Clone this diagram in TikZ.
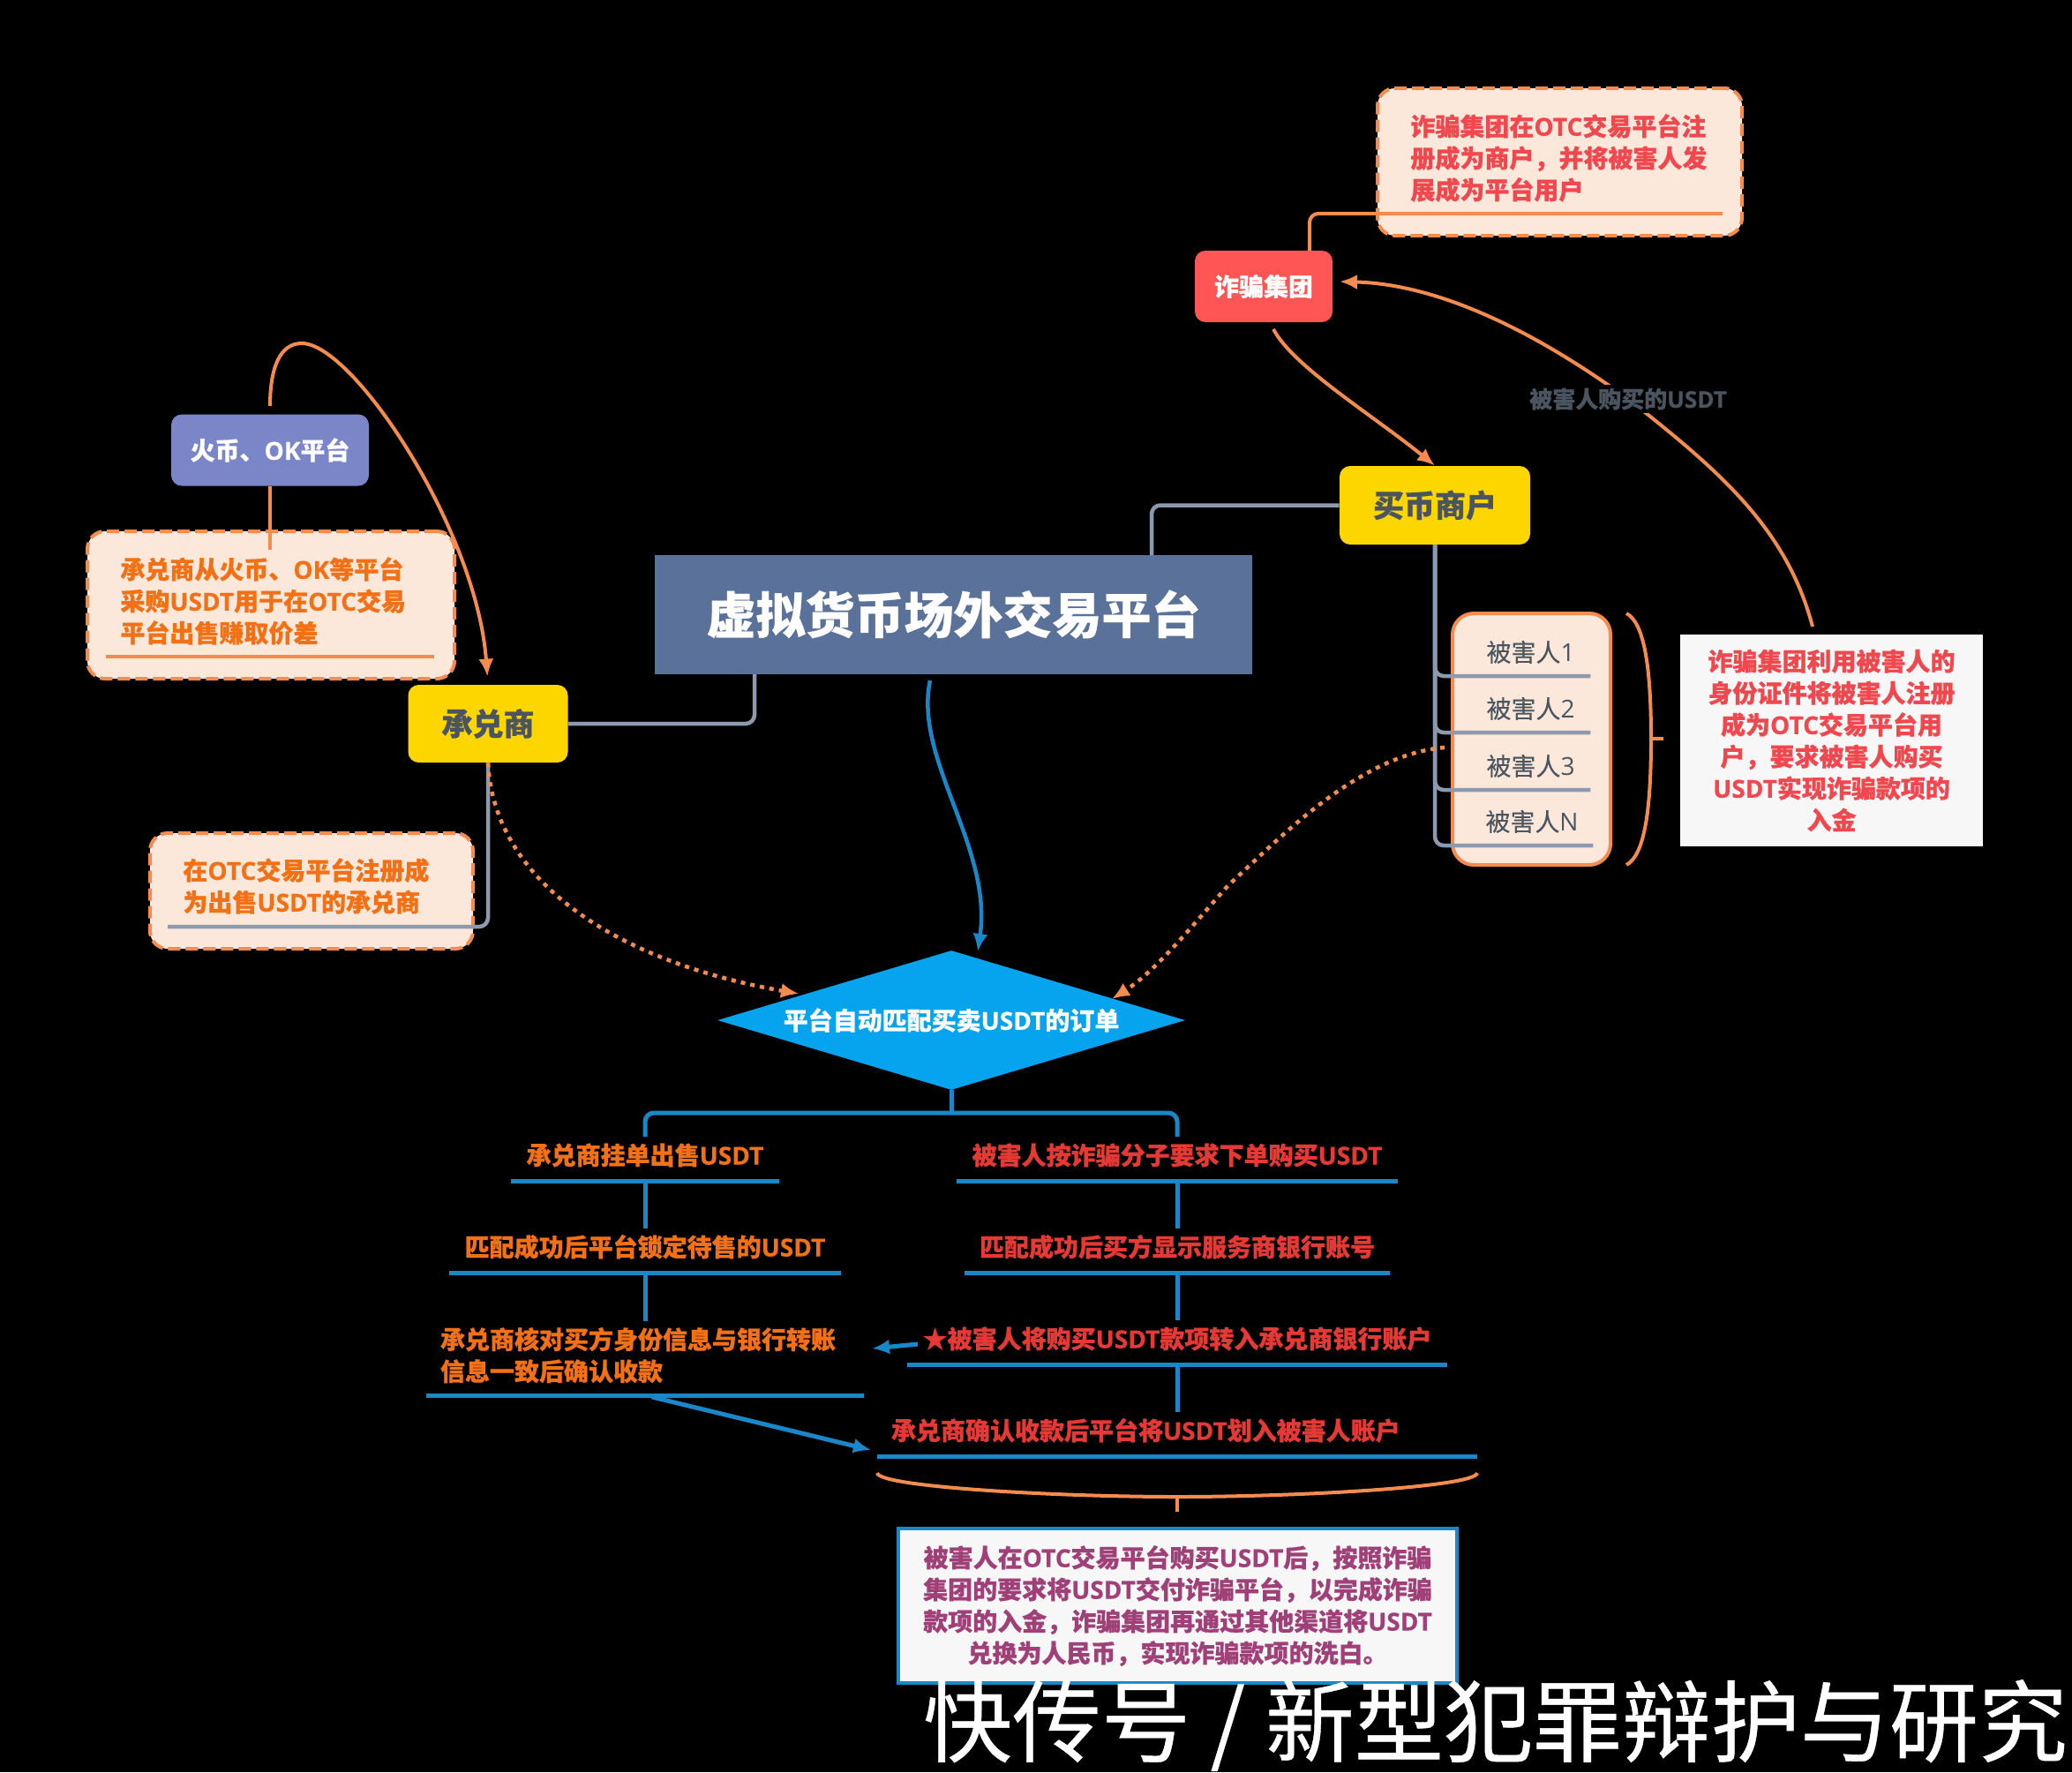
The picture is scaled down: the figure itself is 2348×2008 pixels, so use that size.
\documentclass[tikz,border=0pt]{standalone}
\usepackage{fontspec}
\setmainfont{Noto Sans CJK SC}[BoldFeatures={FakeBold=0.5}]
\newfontfamily\enfont{Open Sans}[BoldFeatures={FakeBold=0.5}]
\newfontfamily\markfont{Noto Sans CJK SC}[FakeBold=0.4]
\newfontfamily\itemfont{Noto Sans CJK SC}[FakeBold=0.25]
\newcommand{\en}[1]{{\enfont #1}}
\usetikzlibrary{arrows.meta,shapes.geometric}
\definecolor{bandblue}{HTML}{5A7199}
\definecolor{roleyellow}{HTML}{FDD600}
\definecolor{darktext}{HTML}{4A5560}
\definecolor{huobiblue}{HTML}{7A86C8}
\definecolor{gangred}{HTML}{FF5555}
\definecolor{lineorange}{HTML}{F58C4F}
\definecolor{notefill}{HTML}{FBE8DA}
\definecolor{sellorange}{HTML}{F37116}
\definecolor{noticered}{HTML}{F0484E}
\definecolor{buyred}{HTML}{E53935}
\definecolor{linegrey}{HTML}{8D99AE}
\definecolor{paleback}{HTML}{F7F7F7}
\definecolor{diamondblue}{HTML}{06A3EE}
\definecolor{lineblue}{HTML}{1A87C8}
\definecolor{sumpurple}{HTML}{A04078}
\tikzset{
    stepfont/.style={font=\fontsize{14}{18}\selectfont\bfseries},
    rolebox/.style={fill=roleyellow,text=darktext,rounded corners=6pt,inner sep=0pt,font=\fontsize{17.5}{21}\selectfont\bfseries},
    tagbox/.style={text=white,rounded corners=6pt,inner sep=0pt,stepfont},
    notebox/.style={draw=lineorange,fill=notefill,line width=2pt,dash pattern=on 7pt off 3pt,rounded corners=10pt,inner sep=0pt},
    notetext/.style={anchor=west,align=left,inner sep=0pt,stepfont},
    victimitem/.style={anchor=south,inner sep=0pt,text=darktext,text height=15pt,text depth=8pt,font=\fontsize{14}{18}\itemfont},
    stepitem/.style={anchor=south,inner xsep=0pt,inner ysep=0pt,text height=15.5pt,text depth=9pt,stepfont},
    orangeline/.style={draw=lineorange,line width=2pt},
    orangedots/.style={draw=lineorange,line width=2.25pt,dash pattern=on 2.5pt off 3pt},
    greyline/.style={draw=linegrey,line width=2.25pt,rounded corners=5pt},
    blueline/.style={draw=lineblue,line width=2.5pt,rounded corners=5pt},
}
\begin{document}
\begin{tikzpicture}[x=0.5pt,y=-0.5pt,>={Latex[length=10pt,width=8.5pt]}]

    \fill[black] (0,0) rectangle (2348,2008);

    \coordinate (platformlow) at (855,764);
    \coordinate (platformtop) at (1305,629);
    \coordinate (platformout) at (1054,771);
    \coordinate (noteAleft) at (120,744);
    \coordinate (noteAright) at (492,744);
    \coordinate (noteAstub) at (306,623);
    \coordinate (noteBleft) at (190,1050);
    \coordinate (noteCright) at (1952,242);
    \coordinate (gangup) at (1484,284);
    \coordinate (gangout) at (1443,373);
    \coordinate (gangin) at (1518,319);
    \coordinate (idnoteout) at (2054,710);
    \coordinate (sellerdots) at (905,1126);
    \coordinate (victimdots) at (1637,847);
    \coordinate (buyerdots) at (1260,1132);
    \coordinate (bracetop) at (1843,695);
    \coordinate (bracemid) at (1871,837);
    \coordinate (bracebot) at (1843,980);
    \coordinate (bracetick) at (1885,837);
    \coordinate (matchtop) at (1108,1078);
    \coordinate (fork) at (1078,1261);
    \coordinate (sellCtop) at (731,1497);
    \coordinate (payarrow) at (1040,1523);
    \coordinate (paytip) at (988,1528);
    \coordinate (confirmtip) at (987,1643);
    \coordinate (sumleft) at (994,1669);
    \coordinate (summid) at (1334,1696);
    \coordinate (sumright) at (1674,1669);
    \coordinate (sumtick) at (1334,1713);

    \node[notebox,minimum width=208pt,minimum height=83.5pt] (noteA) at (307,685.5) {};
    \node[notebox,minimum width=183pt,minimum height=65.5pt] (noteB) at (353,1009.5) {};
    \node[notebox,minimum width=206.5pt,minimum height=83.5pt] (noteC) at (1767.5,183.5) {};
    \node[notetext,text=sellorange] (noteAtext) at (136,681) {承兑商从火币、\en{OK}等平台\\采购\en{USDT}用于在\en{OTC}交易\\平台出售赚取价差};
    \node[notetext,text=sellorange] (noteBtext) at (207,1004) {在\en{OTC}交易平台注册成\\为出售\en{USDT}的承兑商};
    \node[notetext,text=noticered] (noteCtext) at (1598,179) {诈骗集团在\en{OTC}交易平台注\\册成为商户，并将被害人发\\展成为平台用户};

    \node[fill=bandblue,text=white,inner sep=0pt,minimum width=338.5pt,minimum height=67.5pt,font=\fontsize{28}{32}\selectfont\bfseries] (platform) at (1080.5,696) {虚拟货币场外交易平台};
    \node[rolebox,minimum width=90.5pt,minimum height=44pt] (seller) at (553,820) {承兑商};
    \node[rolebox,minimum width=108pt,minimum height=44.5pt] (buyer) at (1626,572.5) {买币商户};
    \node[tagbox,fill=huobiblue,minimum width=112pt,minimum height=40.5pt] (huobi) at (306,510) {火币、\en{OK}平台};
    \node[tagbox,fill=gangred,minimum width=78pt,minimum height=40.5pt] (gang) at (1432,324.5) {诈骗集团};

    \node[draw=lineorange,fill=notefill,line width=2pt,rounded corners=12pt,minimum width=89.5pt,minimum height=142.5pt,inner sep=0pt] (victims) at (1735.5,837.5) {};
    \node[victimitem,minimum width=67.5pt] (victimA) at (1734.5,766) {被害人\en{1}};
    \node[victimitem,minimum width=67.5pt] (victimB) at (1734.5,830) {被害人\en{2}};
    \node[victimitem,minimum width=67.5pt] (victimC) at (1734.5,895) {被害人\en{3}};
    \node[victimitem,minimum width=69pt] (victimN) at (1736,958) {被害人\en{N}};

    \node[fill=paleback,text=noticered,align=center,inner sep=0pt,minimum width=171.5pt,minimum height=120pt,stepfont] (idnote) at (2075.5,839) {诈骗集团利用被害人的\\身份证件将被害人注册\\成为\en{OTC}交易平台用\\户，要求被害人购买\\\en{USDT}实现诈骗款项的\\入金};

    \node[diamond,aspect=3.33,fill=diamondblue,text=white,inner sep=0pt,minimum width=265pt,minimum height=79pt,stepfont] (match) at (1078,1156) {平台自动匹配买卖\en{USDT}的订单};

    \node[stepitem,text=sellorange,minimum width=152pt] (sellA) at (731,1338) {承兑商挂单出售\en{USDT}};
    \node[stepitem,text=sellorange,minimum width=222pt] (sellB) at (731,1442) {匹配成功后平台锁定待售的\en{USDT}};
    \node[anchor=south,text=sellorange,align=left,inner xsep=8pt,inner ysep=0pt,text width=232pt,minimum height=45pt,stepfont] (sellC) at (731,1581) {承兑商核对买方身份信息与银行转账\\信息一致后确认收款};
    \node[stepitem,text=buyred,minimum width=250pt] (buyA) at (1334,1338) {被害人按诈骗分子要求下单购买\en{USDT}};
    \node[stepitem,text=buyred,minimum width=241pt] (buyB) at (1334,1442) {匹配成功后买方显示服务商银行账号};
    \node[stepitem,text=buyred,minimum width=306pt] (buyC) at (1334,1546) {★被害人将购买\en{USDT}款项转入承兑商银行账户};
    \node[stepitem,text=buyred,align=left,inner xsep=8pt,text width=324pt] (buyD) at (1334,1650) {承兑商确认收款后平台将\en{USDT}划入被害人账户};

    \node[draw=lineblue,fill=paleback,text=sumpurple,line width=2.25pt,align=center,inner sep=0pt,minimum width=316.5pt,minimum height=87.5pt,stepfont] (summary) at (1334.5,1819.5) {被害人在\en{OTC}交易平台购买\en{USDT}后，按照诈骗\\集团的要求将\en{USDT}交付诈骗平台，以完成诈骗\\款项的入金，诈骗集团再通过其他渠道将\en{USDT}\\兑换为人民币，实现诈骗款项的洗白。};

    \node[text=white,inner sep=0pt,font=\fontsize{50.5}{54}\markfont] (watermark) at (1694.5,1955) {快传号 / 新型犯罪辩护与研究};

    \draw[orangeline] (huobi.south) -- (noteAstub);
    \draw[orangeline] (noteAleft) -- (noteAright);
    \draw[orangeline,->,shorten <=4.5pt,shorten >=4.5pt] (huobi.north) .. controls (306,415) and (318,389) .. (342,389) .. controls (400,389) and (540,600) .. (seller.north);
    \draw[orangeline,rounded corners=5pt] (gangup) |- (noteCright);
    \draw[orangeline,->] (gangout) .. controls (1465,415) and (1555,470) .. (buyer.north);
    \draw[orangeline,->] (idnoteout) .. controls (2025,600) and (1950,535) .. (1850,456) .. controls (1740,375) and (1630,322) .. (gangin);
    \node[fill=black,text=darktext,inner sep=2pt,font=\fontsize{13}{16}\selectfont\bfseries] (usdtlabel) at (1845,452) {被害人购买的\en{USDT}};

    \draw[greyline] (seller.east) -| (platformlow);
    \draw[greyline] (buyer.west) -| (platformtop);
    \draw[greyline] (seller.south) |- (noteBleft);
    \foreach \victim in {victimA,victimB,victimC,victimN}
        \draw[greyline] (buyer.south) |- (\victim.south west) -- (\victim.south east);

    \draw[orangedots,->] (seller.south) .. controls (560,1000) and (700,1090) .. (sellerdots);
    \draw[orangedots,->] (victimdots) .. controls (1540,855) and (1450,950) .. (1392,1003) .. controls (1350,1050) and (1310,1100) .. (buyerdots);

    \draw[orangeline] (bracetop) .. controls (1862,705) and (1871,750) .. (bracemid) .. controls (1871,925) and (1862,970) .. (bracebot);
    \draw[orangeline] (bracemid) -- (bracetick);

    \draw[lineblue,line width=2.25pt,->] (platformout) .. controls (1035,860) and (1125,960) .. (matchtop);

    \draw[blueline] (match.south) -- (fork);
    \draw[blueline] (sellA.north) |- (fork) -| (buyA.north);
    \foreach \stepname in {sellA,sellB,sellC,buyA,buyB,buyC,buyD}
        \draw[blueline] (\stepname.south west) -- (\stepname.south east);
    \draw[blueline] (sellA.south) -- (sellB.north);
    \draw[blueline] (sellB.south) -- (sellCtop);
    \draw[blueline] (buyA.south) -- (buyB.north);
    \draw[blueline] (buyB.south) -- (buyC.north);
    \draw[blueline] (buyC.south) -- (buyD.north);
    \draw[blueline,->] (payarrow) -- (paytip);
    \draw[blueline,->,shorten <=4pt] (sellC.south) -- (confirmtip);

    \draw[orangeline] (sumleft) .. controls (996,1685) and (1200,1696) .. (summid) .. controls (1470,1696) and (1672,1685) .. (sumright);
    \draw[orangeline] (summid) -- (sumtick);

\end{tikzpicture}
\end{document}
